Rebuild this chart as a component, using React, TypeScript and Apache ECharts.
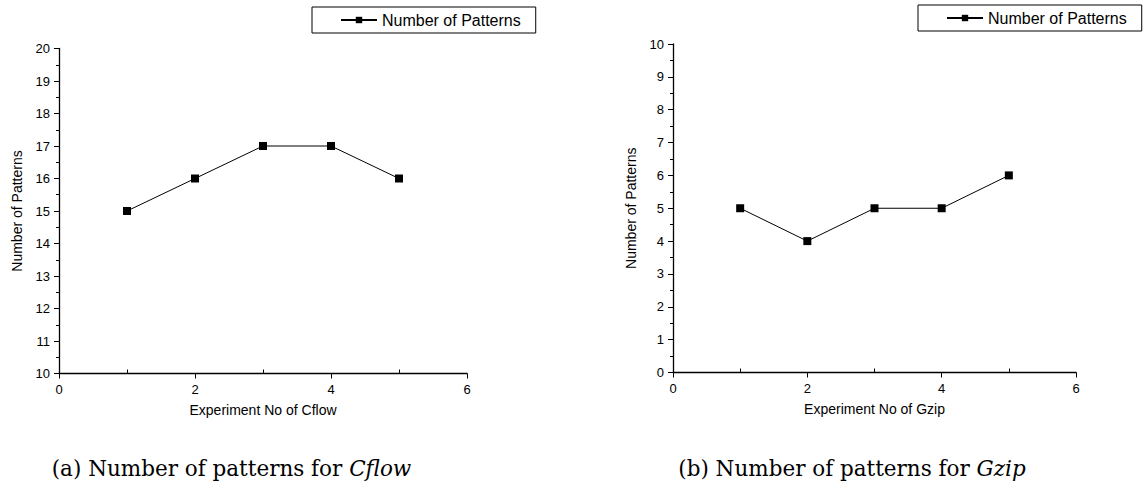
import React, { useEffect, useRef } from "react";
import * as echarts from "echarts";

const experiments = [1, 2, 3, 4, 5];
const cflowPatterns = [15, 16, 17, 17, 16];
const gzipPatterns = [5, 4, 5, 5, 6];
const seriesName = "Number of Patterns";
const yTitle = "Number of Patterns";
const xTitleA = "Experiment No of Cflow";
const xTitleB = "Experiment No of Gzip";
const captionA = "(a) Number of patterns for {it|Cflow}";
const captionB = "(b) Number of patterns for {it|Gzip}";

const SANS = "'Liberation Sans', Arial, sans-serif";
const SERIF = "'DejaVu Serif', 'Liberation Serif', serif";

function makeX(gridIndex: number, name: string) {
  return [
    {
      type: "value",
      gridIndex,
      position: "bottom",
      min: 0,
      max: 6,
      interval: 2,
      name,
      nameLocation: "middle",
      nameGap: 29,
      nameTextStyle: { fontFamily: SANS, fontSize: 14, color: "#000" },
      axisLine: { show: true, onZero: false, lineStyle: { color: "#000", width: 1.3 } },
      axisTick: { show: true, length: 5, lineStyle: { color: "#000" } },
      axisLabel: { margin: 9, fontFamily: SANS, fontSize: 13, color: "#000" },
      splitLine: { show: false },
    },
    {
      type: "value",
      gridIndex,
      position: "bottom",
      min: 0,
      max: 6,
      interval: 1,
      axisLine: { show: false, onZero: false },
      axisTick: { show: true, inside: true, length: 4, customValues: [1, 3, 5], lineStyle: { color: "#000" } },
      axisLabel: { show: false },
      splitLine: { show: false },
    },
  ];
}

function makeY(gridIndex: number, min: number, max: number) {
  return {
    type: "value",
    gridIndex,
    min,
    max,
    interval: 1,
    name: yTitle,
    nameLocation: "middle",
    nameGap: 35,
    nameTextStyle: { fontFamily: SANS, fontSize: 14, color: "#000" },
    axisLine: { show: true, onZero: false, lineStyle: { color: "#000", width: 1.3 } },
    axisTick: { show: true, length: 5, lineStyle: { color: "#000" } },
    minorTick: { show: true, splitNumber: 2, length: 3, lineStyle: { color: "#000" } },
    axisLabel: { margin: 9, fontFamily: SANS, fontSize: 13, color: "#000" },
    splitLine: { show: false },
    minorSplitLine: { show: false },
  };
}

function makeSeries(xAxisIndex: number, yAxisIndex: number, values: number[]) {
  return {
    type: "line",
    name: seriesName,
    xAxisIndex,
    yAxisIndex,
    data: experiments.map((e, i) => [e, values[i]]),
    symbol: "rect",
    symbolSize: 8,
    lineStyle: { color: "#000", width: 1 },
    itemStyle: { color: "#000" },
    emphasis: { disabled: true },
  };
}

function makeLegend(left: number, top: number) {
  return {
    left,
    top,
    orient: "horizontal",
    data: [seriesName],
    padding: [5, 15, 5, 28],
    borderColor: "#000",
    borderWidth: 1,
    itemWidth: 36,
    itemHeight: 8,
    selectedMode: false,
    textStyle: { fontFamily: SANS, fontSize: 16, color: "#000" },
  };
}

function makeCaption(text: string, x: number) {
  return {
    type: "text",
    x,
    y: 468,
    style: {
      text,
      fontFamily: SERIF,
      fontSize: 21.5,
      fill: "#000",
      align: "center",
      verticalAlign: "middle",
      rich: { it: { fontStyle: "italic", fontFamily: SERIF, fontSize: 21.5, fill: "#000" } },
    },
  };
}

export default function App() {
  const ref = useRef<HTMLDivElement>(null);
  useEffect(() => {
    if (!ref.current) return;
    const chart = echarts.init(ref.current, undefined, { renderer: "svg" });
    chart.setOption({
      animation: false,
      backgroundColor: "#fff",
      grid: [
        { left: 59, top: 48.5, width: 408, height: 325 },
        { left: 673, top: 44, width: 403, height: 328.5 },
      ],
      xAxis: [...makeX(0, xTitleA), ...makeX(1, xTitleB)],
      yAxis: [makeY(0, 10, 20), makeY(1, 0, 10)],
      legend: [makeLegend(312, 7), makeLegend(918, 5)],
      series: [makeSeries(0, 0, cflowPatterns), makeSeries(2, 1, gzipPatterns)],
      graphic: [makeCaption(captionA, 231.5), makeCaption(captionB, 852)],
    });
    return () => chart.dispose();
  }, []);
  return (
    <div style={{ position: "absolute", left: 0, top: 0, width: 1145, height: 495, background: "#fff" }}>
      <div ref={ref} style={{ width: 1145, height: 495 }} />
    </div>
  );
}
